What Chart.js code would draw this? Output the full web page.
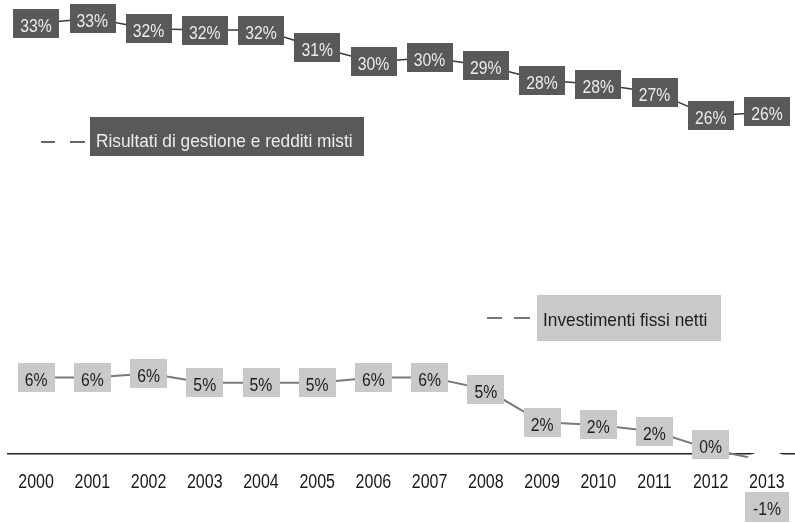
<!DOCTYPE html>
<html>
<head>
<meta charset="utf-8">
<script src="https://cdn.jsdelivr.net/npm/chart.js@4.4.1/dist/chart.umd.min.js"></script>
<style>
html, body { margin: 0; padding: 0; background: #fff; }
canvas { display: block; }
</style>
</head>
<body>
<canvas id="chart" width="795" height="523"></canvas>
<script>
var years = ['2000', '2001', '2002', '2003', '2004', '2005', '2006', '2007', '2008', '2009', '2010', '2011', '2012', '2013'];
var risultati = [32.6, 33.0, 32.2, 32.1, 32.1, 30.8, 29.7, 30.0, 29.4, 28.3, 28.0, 27.4, 25.6, 25.9];
var investimenti = [5.8, 5.8, 6.1, 5.4, 5.4, 5.4, 5.8, 5.8, 4.9, 2.4, 2.2, 1.7, 0.35, -0.55];
var nameRisultati = 'Risultati di gestione e redditi misti';
var nameInvestimenti = 'Investimenti fissi netti';

var FONT = '"Liberation Sans", Arial, sans-serif';

// narrow text: regular face squeezed horizontally
function narrowText(ctx, txt, x, y, sx, align) {
    ctx.save();
    ctx.translate(x, y);
    ctx.scale(sx, 1);
    ctx.textAlign = align;
    ctx.fillText(txt, 0, 0);
    ctx.restore();
}

// boxed percentage labels on every point
var valueBoxes = {
    id: 'valueBoxes',
    afterDatasetsDraw: function(chart) {
        var ctx = chart.ctx;
        var zeroY = chart.scales.y.getPixelForValue(0);
        var sx = 0.9;
        ctx.save();
        ctx.font = '17.5px ' + FONT;
        ctx.textBaseline = 'alphabetic';
        chart.data.datasets.forEach(function(ds, i) {
            var meta = chart.getDatasetMeta(i);
            meta.data.forEach(function(pt, j) {
                var v = ds.data[j];
                var txt = Math.round(v) + '%';
                var w = ctx.measureText(txt).width * sx + 14;
                var h = 29;
                var cy;
                if (v < 0) {
                    // clear a halo round the point, the label goes under the years
                    ctx.fillStyle = '#fff';
                    ctx.beginPath();
                    ctx.ellipse(pt.x, pt.y, w / 2, 10, 0, 0, Math.PI * 2);
                    ctx.fill();
                    cy = zeroY + 53;
                    w += 2;
                    h = 30;
                } else {
                    cy = Math.min(pt.y, zeroY - 9);
                }
                ctx.fillStyle = ds.boxColor;
                ctx.fillRect(Math.round(pt.x - w / 2), Math.round(cy - h / 2), Math.round(w), h);
                ctx.fillStyle = ds.textColor;
                narrowText(ctx, txt, pt.x, cy + 8.5, sx, 'center');
            });
        });
        ctx.restore();
    }
};

// year labels under the zero line, and the two series names
var annotations = {
    id: 'annotations',
    afterDraw: function(chart) {
        var ctx = chart.ctx;
        var xs = chart.scales.x;
        var zeroY = chart.scales.y.getPixelForValue(0);
        ctx.save();
        ctx.textBaseline = 'alphabetic';

        ctx.font = '20px ' + FONT;
        ctx.fillStyle = '#1a1a1a';
        years.forEach(function(y, i) {
            narrowText(ctx, y, xs.getPixelForValue(i), zeroY + 34, 0.8, 'center');
        });

        ctx.font = '19px ' + FONT;
        ctx.strokeStyle = '#333';
        ctx.lineWidth = 1.5;
        ctx.beginPath();
        ctx.moveTo(41, 142); ctx.lineTo(55, 142);
        ctx.moveTo(70, 142); ctx.lineTo(85, 142);
        ctx.stroke();
        ctx.fillStyle = '#595959';
        ctx.fillRect(90, 117, 274, 39);
        ctx.fillStyle = '#ececec';
        narrowText(ctx, nameRisultati, 96, 147, 0.91, 'left');

        ctx.strokeStyle = '#777';
        ctx.lineWidth = 2;
        ctx.beginPath();
        ctx.moveTo(487, 318); ctx.lineTo(502, 318);
        ctx.moveTo(514, 318); ctx.lineTo(530, 318);
        ctx.stroke();
        ctx.fillStyle = '#c9c9c9';
        ctx.fillRect(537, 295, 184, 46);
        ctx.fillStyle = '#1e1e1e';
        narrowText(ctx, nameInvestimenti, 543, 326, 0.91, 'left');
        ctx.restore();
    }
};

var ctx = document.getElementById('chart');
var chart = new Chart(ctx, {
    type: 'line',
    data: {
        labels: years,
        datasets: [
            {
                label: nameRisultati,
                data: risultati,
                borderColor: '#3a3a3a',
                borderWidth: 1.5,
                pointRadius: 0,
                tension: 0,
                clip: false,
                boxColor: '#595959',
                textColor: '#ececec'
            },
            {
                label: nameInvestimenti,
                data: investimenti,
                borderColor: '#7a7a7a',
                borderWidth: 2,
                pointRadius: 0,
                tension: 0,
                clip: false,
                boxColor: '#c9c9c9',
                textColor: '#1e1e1e'
            }
        ]
    },
    options: {
        responsive: false,
        animation: false,
        layout: { padding: { left: 8, right: 0, top: 5, bottom: 3 } },
        plugins: { legend: { display: false }, tooltip: { enabled: false } },
        scales: {
            x: {
                type: 'category',
                position: { y: 0 },
                offset: true,
                grid: { display: false },
                border: { display: true, color: '#222', width: 1.5 },
                ticks: { display: false }
            },
            y: { display: false, min: -5, max: 34 }
        }
    },
    plugins: [valueBoxes, annotations]
});
</script>
</body>
</html>
